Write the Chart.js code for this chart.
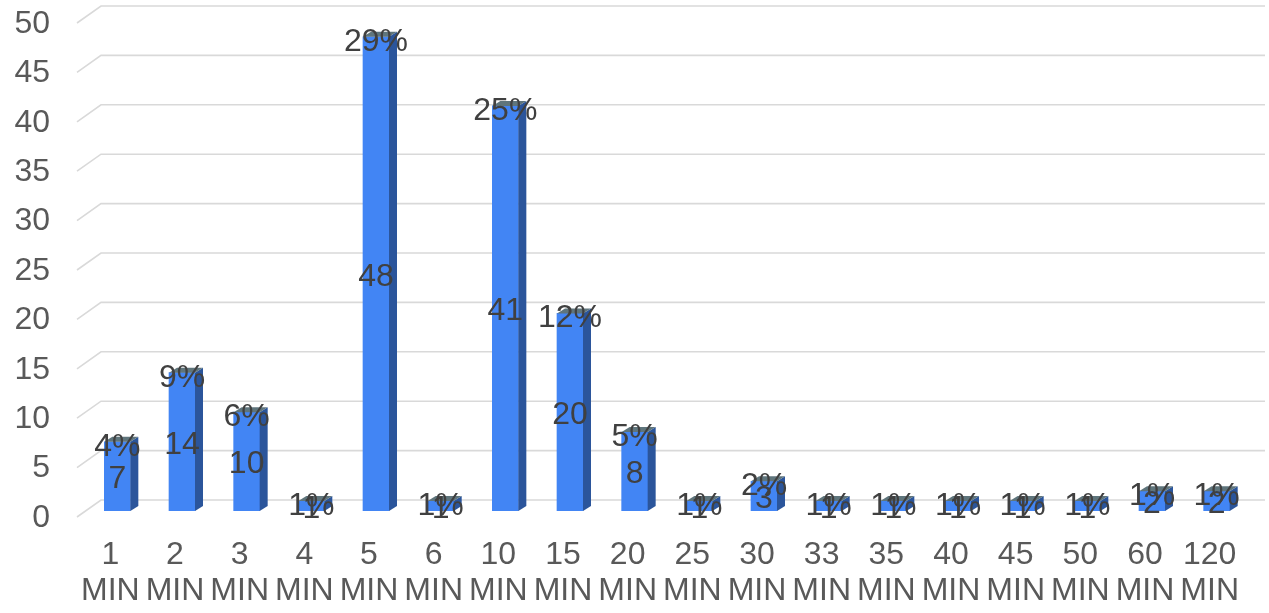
<!DOCTYPE html>
<html>
<head>
<meta charset="utf-8">
<script src="https://cdn.jsdelivr.net/npm/chart.js@4.4.1/dist/chart.umd.min.js"></script>
<style>
  html, body { margin: 0; padding: 0; background: #ffffff; }
  #wrap { width: 1269px; height: 613px; position: relative; }
</style>
</head>
<body>
<div id="wrap"><canvas id="c"></canvas></div>
<script>
// ---- data ----
const categories = ['1 MIN','2 MIN','3 MIN','4 MIN','5 MIN','6 MIN','10 MIN','15 MIN','20 MIN','25 MIN','30 MIN','33 MIN','35 MIN','40 MIN','45 MIN','50 MIN','60 MIN','120 MIN'];
const counts = [7, 14, 10, 1, 48, 1, 41, 20, 8, 1, 3, 1, 1, 1, 1, 1, 2, 2];
const percentLabels = ['4%','9%','6%','1%','29%','1%','25%','12%','5%','1%','2%','1%','1%','1%','1%','1%','1%','1%'];
const yMin = 0;
const yMax = 50;
const yStep = 5;

// ---- style ----
const FONT = 'Liberation Sans, Arial, sans-serif';
const FRONT = '#4285f4';
const SIDE = '#2b559b';
const TOPFACE = '#5f757c';
const GRID = '#d9d9d9';
const DEPTH_X = 8, DEPTH_Y = 5;      // bar depth
const WALL_X = 23, WALL_BACK = 11, WALL_FRONT = 6; // floor/wall perspective
const BAR_SHIFT = 7;

const gridPlugin = {
  id: 'grid3d',
  beforeDatasetsDraw(chart) {
    const ctx = chart.ctx;
    const ys = chart.scales.y;
    const area = chart.chartArea;
    ctx.save();
    ctx.strokeStyle = GRID;
    ctx.lineWidth = 1.6;
    ys.ticks.forEach(t => {
      const y = ys.getPixelForValue(t.value);
      ctx.beginPath();
      ctx.moveTo(area.left - 1, y + WALL_FRONT);
      ctx.lineTo(area.left + WALL_X, y - WALL_BACK);
      ctx.lineTo(area.right + WALL_X, y - WALL_BACK);
      ctx.stroke();
    });
    ctx.restore();
    ctx.save();
    ctx.translate(BAR_SHIFT, 0);
  },
  afterDatasetsDraw(chart) {
    const ctx = chart.ctx;
    ctx.restore();
    const meta = chart.getDatasetMeta(0);
    ctx.save();
    meta.data.forEach((bar) => {
      const x = bar.x + BAR_SHIFT;
      const w = bar.width;
      const x0 = x - w / 2, x1 = x + w / 2;
      const top = bar.y, base = bar.base;
      // side face
      ctx.fillStyle = SIDE;
      ctx.beginPath();
      ctx.moveTo(x1, top);
      ctx.lineTo(x1 + DEPTH_X, top - DEPTH_Y);
      ctx.lineTo(x1 + DEPTH_X, base - DEPTH_Y);
      ctx.lineTo(x1, base);
      ctx.closePath();
      ctx.fill();
      // top face
      ctx.fillStyle = TOPFACE;
      ctx.beginPath();
      ctx.moveTo(x0, top);
      ctx.lineTo(x1, top);
      ctx.lineTo(x1 + DEPTH_X, top - DEPTH_Y);
      ctx.lineTo(x0 + DEPTH_X, top - DEPTH_Y);
      ctx.closePath();
      ctx.fill();
    });
    // labels
    ctx.fillStyle = '#404040';
    ctx.font = '32px ' + FONT;
    ctx.textAlign = 'center';
    ctx.textBaseline = 'middle';
    meta.data.forEach((bar, i) => {
      const x = bar.x + BAR_SHIFT;
      const top = bar.y, base = bar.base;
      ctx.fillText(String(counts[i]), x, (top + base) / 2 + 3);
    });
    meta.data.forEach((bar, i) => {
      const x = bar.x + BAR_SHIFT;
      ctx.fillText(percentLabels[i], x, bar.y + 5);
    });
    ctx.restore();
  }
};

new Chart(document.getElementById('c'), {
  type: 'bar',
  data: {
    labels: categories.map(c => c.split(' ')),
    datasets: [{
      data: counts,
      backgroundColor: FRONT,
      borderWidth: 0,
      barThickness: 26
    }]
  },
  options: {
    responsive: true,
    maintainAspectRatio: false,
    animation: false,
    events: [],
    layout: { padding: { top: 17, right: 27, left: 0, bottom: 0 } },
    plugins: {
      legend: { display: false },
      tooltip: { enabled: false },
      title: { display: false }
    },
    scales: {
      x: {
        offset: true,
        grid: { display: false, drawTicks: false },
        border: { display: false },
        ticks: {
          color: '#595959',
          font: { family: FONT, size: 32, lineHeight: 1.125 },
          padding: 26,
          maxRotation: 0,
          autoSkip: false
        },
        afterFit(scale) { scale.height = 102; scale.paddingLeft = 0; scale.paddingRight = 0; }
      },
      y: {
        min: yMin,
        max: yMax,
        grid: { display: false, drawTicks: false },
        border: { display: false },
        ticks: {
          stepSize: yStep,
          color: '#595959',
          font: { family: FONT, size: 32, lineHeight: 1 },
          padding: 28,
          labelOffset: 7
        },
        afterFit(scale) { scale.width = 78; scale.paddingTop = 0; scale.paddingBottom = 0; }
      }
    }
  },
  plugins: [gridPlugin]
});
</script>
</body>
</html>
